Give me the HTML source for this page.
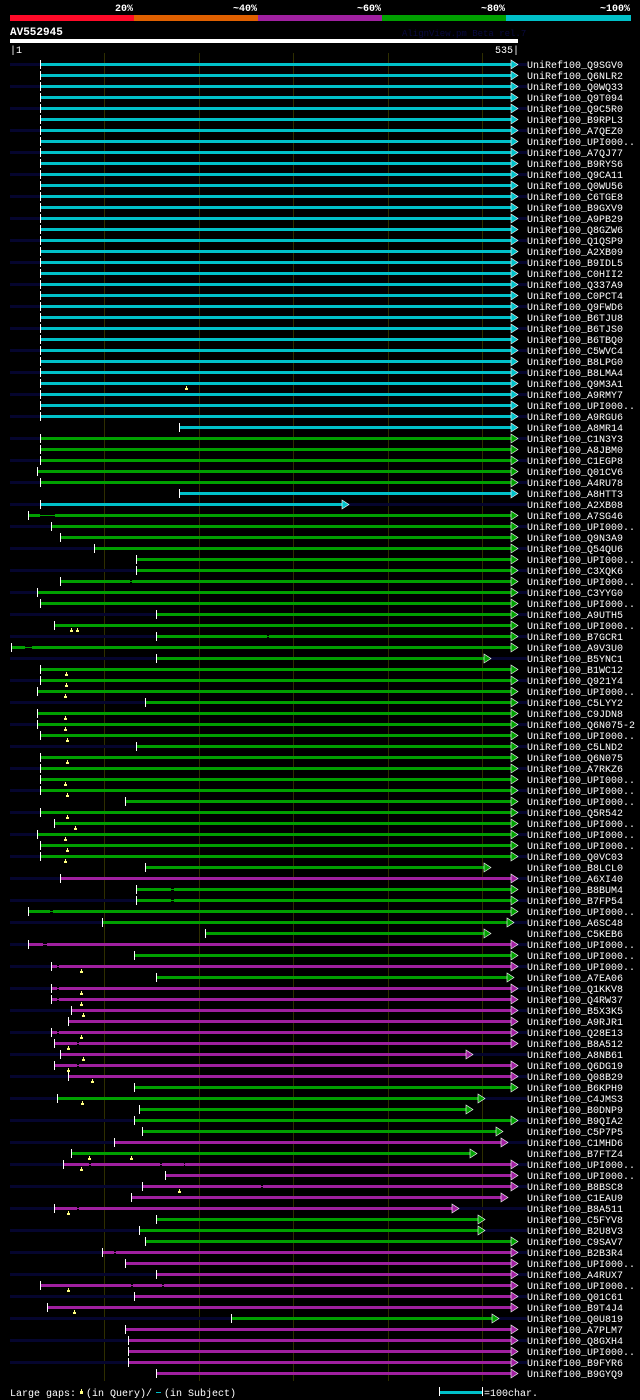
<!DOCTYPE html>
<html><head><meta charset="utf-8"><style>
html,body{margin:0;padding:0;background:#000;}
svg{display:block;}
text{font-family:"Liberation Mono",monospace;}
</style></head><body>
<svg id="chart" width="640" height="1400" viewBox="0 0 640 1400" xmlns="http://www.w3.org/2000/svg" shape-rendering="crispEdges">
<rect x="0" y="0" width="640" height="1400" fill="#000"/>
<g>
<rect x="10" y="15" width="124" height="6" fill="#ff0a28"/>
<rect x="134" y="15" width="124" height="6" fill="#e06000"/>
<rect x="258" y="15" width="124" height="6" fill="#a020a0"/>
<rect x="382" y="15" width="124" height="6" fill="#00a000"/>
<rect x="506" y="15" width="125" height="6" fill="#00c0c8"/>
<text x="133" y="11" fill="#fff" font-size="10" font-weight="bold" text-anchor="end">20%</text>
<text x="257" y="11" fill="#fff" font-size="10" font-weight="bold" text-anchor="end">~40%</text>
<text x="381" y="11" fill="#fff" font-size="10" font-weight="bold" text-anchor="end">~60%</text>
<text x="505" y="11" fill="#fff" font-size="10" font-weight="bold" text-anchor="end">~80%</text>
<text x="630" y="11" fill="#fff" font-size="10" font-weight="bold" text-anchor="end">~100%</text>
</g>
<text x="10" y="35" fill="#fff" font-size="11" font-weight="bold">AV552945</text>
<text x="402" y="36" fill="#0a0a40" font-size="9">AlignView.pm Beta rel.7</text>
<rect x="10" y="39" width="508" height="4" fill="#fff"/>
<text x="10" y="53" fill="#fff" font-size="10">|1</text>
<text x="519" y="53" fill="#fff" font-size="10" text-anchor="end">535|</text>
<g id="grid"></g>
<g id="rows"></g>
<g>
<text x="10" y="1396" fill="#fff" font-size="10">Large gaps:</text>
<rect x="80" y="1391" width="3" height="3" fill="#ffff80"/><rect x="81" y="1389" width="1" height="2" fill="#ffff80"/>
<text x="86" y="1396" fill="#fff" font-size="10">(in Query)/</text>
<rect x="156" y="1392" width="5" height="1" fill="#00c0c8"/>
<text x="164" y="1396" fill="#fff" font-size="10">(in Subject)</text>
<rect x="440" y="1391" width="42" height="3" fill="#00c0c8"/>
<rect x="439" y="1387" width="1" height="9" fill="#fff"/><rect x="482" y="1387" width="1" height="9" fill="#fff"/>
<text x="484" y="1396" fill="#fff" font-size="10">=100char.</text>
</g>
</svg>
<script>
const labels=["Q9SGV0","Q6NLR2","Q0WQ33","Q9T094","Q9C5R0","B9RPL3","A7QEZ0","UPI000..","A7QJ77","B9RYS6","Q9CA11","Q0WU56","C6TGE8","B9GXV9","A9PB29","Q8GZW6","Q1QSP9","A2XB09","B9IDL5","C0HII2","Q337A9","C0PCT4","Q9FWD6","B6TJU8","B6TJS0","B6TBQ0","C5WVC4","B8LPG0","B8LMA4","Q9M3A1","A9RMY7","UPI000..","A9RGU6","A8MR14","C1N3Y3","A8JBM0","C1EGP8","Q01CV6","A4RU78","A8HTT3","A2XB08","A7SG46","UPI000..","Q9N3A9","Q54QU6","UPI000..","C3XQK6","UPI000..","C3YYG0","UPI000..","A9UTH5","UPI000..","B7GCR1","A9V3U0","B5YNC1","B1WC12","Q921Y4","UPI000..","C5LYY2","C9JDN8","Q6N075-2","UPI000..","C5LND2","Q6N075","A7RKZ6","UPI000..","UPI000..","UPI000..","Q5R542","UPI000..","UPI000..","UPI000..","Q0VC03","B8LCL0","A6XI40","B8BUM4","B7FP54","UPI000..","A6SC48","C5KEB6","UPI000..","UPI000..","UPI000..","A7EA06","Q1KKV8","Q4RW37","B5X3K5","A9RJR1","Q28E13","B8A512","A8NB61","Q6DG19","Q08B29","B6KPH9","C4JMS3","B0DNP9","B9QIA2","C5P7P5","C1MHD6","B7FTZ4","UPI000..","UPI000..","B8BSC8","C1EAU9","B8A511","C5FYV8","B2U8V3","C9SAV7","B2B3R4","UPI000..","A4RUX7","UPI000..","Q01C61","B9T4J4","Q0U819","A7PLM7","Q8GXH4","UPI000..","B9FYR6","B9GYQ9"];
const identity="cccccccccccccccccccccccccccccccccc"+"gggggcc"+"ggggggggggggggggggggggggggggggggg"+"m"+"ggggg"+"mgmg"+"mmmmmmmmm"+"ggggg"+"mg"+"mmmmm"+"ggg"+"mmmmmm"+"g"+"mmmmm";
const starts=[33,33,33,33,33,33,33,33,33,33,33,33,33,33,33,33,33,33,33,33,33,33,33,33,33,33,33,33,33,33,33,33,33,180,
33,33,33,30,33,180,33,20,44,54,90,134,134,54,30,33,156,48,156,2,156,
33,33,30,144,30,30,33,134,33,33,33,33,123,33,48,30,33,33,144,54,
134,134,20,98,208,20,132,44,156,44,44,66,62,44,48,54,48,62,132,51,
138,132,141,111,66,57,165,141,129,48,156,138,144,98,123,156,33,132,40,235,123,126,126,126,156];
const endDefault=532;
const endOverrides={40:353,54:503,73:503,78:527,79:503,83:527,90:484,94:497,95:484,97:516,98:521,99:488,103:521,104:469,105:497,106:497,114:512};
const queryGaps={29:[187],51:[66,72],55:[60],56:[60],57:[59],59:[59],60:[59],61:[61],63:[61],65:[59],66:[61],68:[61],69:[70],70:[59],71:[61],72:[59],82:[76],84:[76],85:[76],86:[78],88:[76],89:[62],90:[78],91:[62],92:[88],94:[77],99:[85,129],100:[76],102:[180],104:[62],111:[62],113:[69]};
const subjectGaps={41:[[33,49]],47:[[128,130]],52:[[273,275]],53:[[17,24]],75:[[172,175]],76:[[172,175]],77:[[43,47]],80:[[36,40]],82:[[51,53]],84:[[51,53]],85:[[51,53]],88:[[51,53]],89:[[72,74]],91:[[72,74]],100:[[85,87],[160,162],[185,186]],102:[[267,269]],104:[[72,74]],108:[[111,113]],111:[[129,131],[162,164]]};
const gridTicks=[101,201,301,401,501];

const NS="http://www.w3.org/2000/svg";
const colors={c:"#00c0c8",g:"#00a000",m:"#a020a0"};
function xs(r){return Math.round(10+(r-1)*0.944);}
function ys(i){return 64+i*11;}
function mk(tag,attrs,parent){const e=document.createElementNS(NS,tag);for(const k in attrs)e.setAttribute(k,attrs[k]);parent.appendChild(e);return e;}
const grid=document.getElementById('grid');
gridTicks.forEach(t=>{
  const l=mk('rect',{x:xs(t),y:53,width:1,height:1328,fill:'#2e2e00'},grid);
  
  
});
const rowsG=document.getElementById('rows');
labels.forEach((lab,i)=>{
  const y=ys(i);
  const g=mk('g',{},rowsG);
  
  
  const col=colors[identity[i]];
  const s=xs(starts[i]);
  const eR=(endOverrides[i]!==undefined)?endOverrides[i]:endDefault;
  const e=xs(eR);
  if(i%2===0){
    const t=mk('rect',{x:10,y:y-1,width:517,height:3,fill:'#05052e'},g);
    
    
  }
  const b=mk('rect',{x:s,y:y-1,width:e-s,height:3,fill:col},g);
  
  
  (subjectGaps[i]||[]).forEach(gp=>{
    const a=xs(gp[0]),z=xs(gp[1]);
    mk('rect',{x:a,y:y-1,width:z-a,height:3,fill:'#000'},g);
    const gl=mk('rect',{x:a,y:y,width:z-a,height:1,fill:col},g);
    
    
  });
  const st=mk('rect',{x:s,y:y-4,width:1,height:9,fill:'#fff'},g);
  
  
  const ar=mk('polygon',{points:`${e},${y-4} ${e+7},${y+0.5} ${e},${y+5}`,fill:col,stroke:'#fff','stroke-width':0.6,'shape-rendering':'auto'},g);
  
  
  (queryGaps[i]||[]).forEach(q=>{
    const qx=xs(q);
    const m=mk('path',{d:`M${qx-1},${y+7} h3 v-2 h-1 v-2 h-1 v2 h-1 z`,fill:'#ffff80'},g);
    
    
  });
  const tx=mk('text',{x:527,y:y+4,fill:'#fff','font-size':10},g);
  tx.textContent='UniRef100_'+lab;
  
  
});
</script>
</body></html>
